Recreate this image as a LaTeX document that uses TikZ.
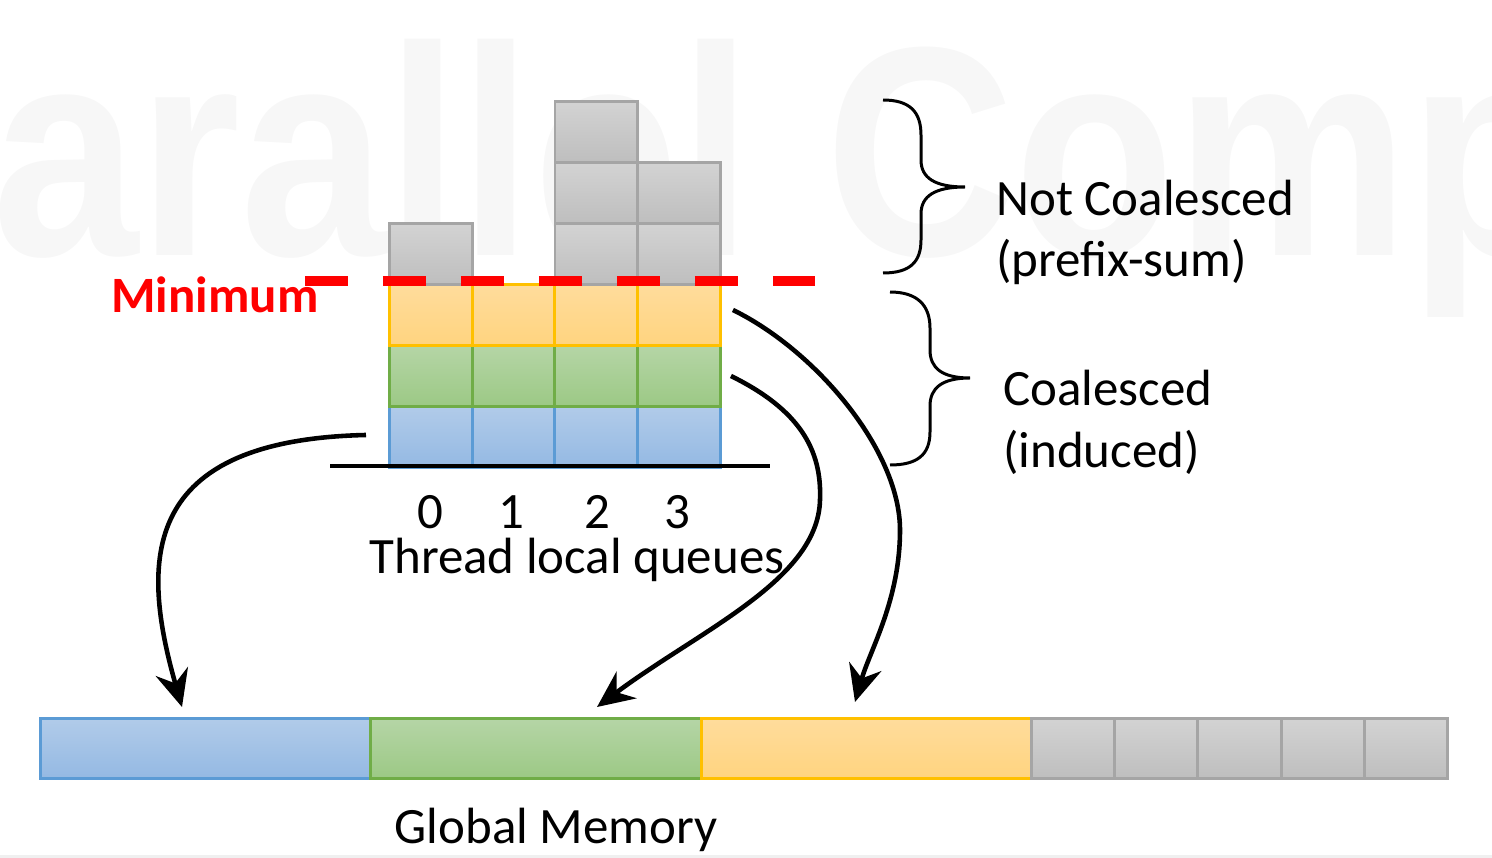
\documentclass[tikz,border=0pt]{standalone}
\usepackage{fontspec}
\setmainfont{Carlito}
\newfontfamily\wmfont{Liberation Sans}
\usetikzlibrary{arrows.meta,calc}
\definecolor{bluebd}{HTML}{5B9BD5}\definecolor{bluetop}{HTML}{B1CBE9}\definecolor{bluebot}{HTML}{94B9E3}
\definecolor{greenbd}{HTML}{70AD47}\definecolor{greentop}{HTML}{B5D5A6}\definecolor{greenbot}{HTML}{9CC985}
\definecolor{orangebd}{HTML}{FFC000}\definecolor{orangetop}{HTML}{FFDC9C}\definecolor{orangebot}{HTML}{FFD47F}
\definecolor{graybd}{HTML}{A5A5A5}\definecolor{graytop}{HTML}{D3D3D3}\definecolor{graybot}{HTML}{BEBEBE}
\definecolor{wm}{HTML}{F7F7F7}
\begin{document}
\begin{tikzpicture}[x=0.02cm,y=-0.02cm,
  cell/.style={rectangle, line width=1.7pt, minimum width=1.655cm, minimum height=1.22cm, inner sep=0pt, anchor=north west},
  bluec/.style={cell, draw=bluebd, top color=bluetop, bottom color=bluebot},
  greenc/.style={cell, draw=greenbd, top color=greentop, bottom color=greenbot},
  orangec/.style={cell, draw=orangebd, top color=orangetop, bottom color=orangebot},
  grayc/.style={cell, draw=graybd, top color=graytop, bottom color=graybot},
  memc/.style={rectangle, line width=1.7pt, minimum height=1.2cm, inner sep=0pt, anchor=north west},
  lbl/.style={font=\fontsize{29}{35}\selectfont, anchor=base west, inner sep=0pt},
  lblc/.style={font=\fontsize{29}{35}\selectfont, anchor=base, inner sep=0pt},
  conn/.style={line width=2.6pt, -{Stealth[length=21pt, width=19pt, inset=7pt]}},
  bracepath/.style={line width=1.7pt},
]
\useasboundingbox (0,0) rectangle (1492,858);
% faint watermark
\node[font=\wmfont\bfseries\fontsize{170}{176}\selectfont, text=wm, anchor=base west, inner sep=0pt] (wmark) at (-8,256) {\scalebox{0.88}[1]{arallel Comp}};
\fill[black!6] (0,855) rectangle (1492,858);

% thread local queues: blue, green, orange rows
\foreach \i in {0,1,2,3} {
  \node[bluec] (b\i) at ({388+82.75*\i},405) {};
}
\foreach \i in {0,1,2,3} {
  \node[greenc] (g\i) at ({388+82.75*\i},344) {};
}
\foreach \i in {0,1,2,3} {
  \node[orangec] (o\i) at ({388+82.75*\i},283) {};
}
% gray (not coalesced)
\node[grayc] (q0a) at (388,222) {};
\node[grayc] (q2a) at (553.5,222) {};
\node[grayc] (q2b) at (553.5,161) {};
\node[grayc] (q2c) at (553.5,100) {};
\node[grayc] (q3a) at (636.25,222) {};
\node[grayc] (q3b) at (636.25,161) {};

% base line
\draw[line width=2.3pt] (330,466) -- (770,466);

% minimum dashed line
\draw[red, line width=6.2pt, dash pattern=on 0.86cm off 0.7cm] (305,281) -- (815,281);
\node[lbl, font=\fontsize{29}{35}\selectfont\bfseries, text=red] (minlbl) at (111,313) {Minimum};

% digits and caption
\node[lblc] (d0) at (430,528) {0};
\node[lblc] (d1) at (511,528) {1};
\node[lblc] (d2) at (597,528) {2};
\node[lblc] (d3) at (677,528) {3};
\node[lblc] (tlq) at (577,573) {Thread local queues};

% braces
\draw[bracepath] (883,100) .. controls (910,100) and (921,112) .. (921,135) -- (921,160)
  .. controls (921,178) and (935,187) .. (965,187)
  .. controls (935,187) and (921,196) .. (921,214) -- (921,240)
  .. controls (921,262) and (910,273) .. (883,273);
\draw[bracepath] (890,292) .. controls (917,292) and (930,305) .. (930,328) -- (930,350)
  .. controls (930,368) and (942,378) .. (970,378)
  .. controls (942,378) and (930,388) .. (930,406) -- (930,432)
  .. controls (930,455) and (917,465) .. (890,465);
\node[lbl] (nc1) at (996,216) {Not Coalesced};
\node[lbl] (nc2) at (996,277) {(prefix-sum)};
\node[lbl] (c1) at (1003,405) {Coalesced};
\node[lbl] (c2) at (1003,467) {(induced)};

% global memory
\node[memc, minimum width=6.6cm, draw=bluebd, top color=bluetop, bottom color=bluebot] (mb) at (39,717) {};
\node[memc, minimum width=6.62cm, draw=greenbd, top color=greentop, bottom color=greenbot] (mg) at (369,717) {};
\node[memc, minimum width=6.6cm, draw=orangebd, top color=orangetop, bottom color=orangebot] (mo) at (700,717) {};
\foreach \i in {0,...,4} {
  \node[memc, minimum width=1.664cm, draw=graybd, top color=graytop, bottom color=graybot] (mq\i) at ({1030+83.2*\i},717) {};
}
\node[lblc] (gm) at (556,843) {Global Memory};

% arrows
\coordinate (e1) at (182,707);
\coordinate (e2) at (597,707);
\coordinate (e3) at (855,702);
\draw[conn] ($(b0.west)+(-22,-2)$) .. controls (140,440) and (140,560) .. (e1);
\draw[conn] ($(g3.east)+(9,0)$) .. controls (800,410) and (822,450) .. (820,500)
  .. controls (818,580) and (700,630) .. (e2);
\draw[conn] ($(o3.east)+(11,-5)$) .. controls (815,350) and (900,450) .. (900,530)
  .. controls (900,600) and (870,650) .. (e3);
\end{tikzpicture}
\end{document}
